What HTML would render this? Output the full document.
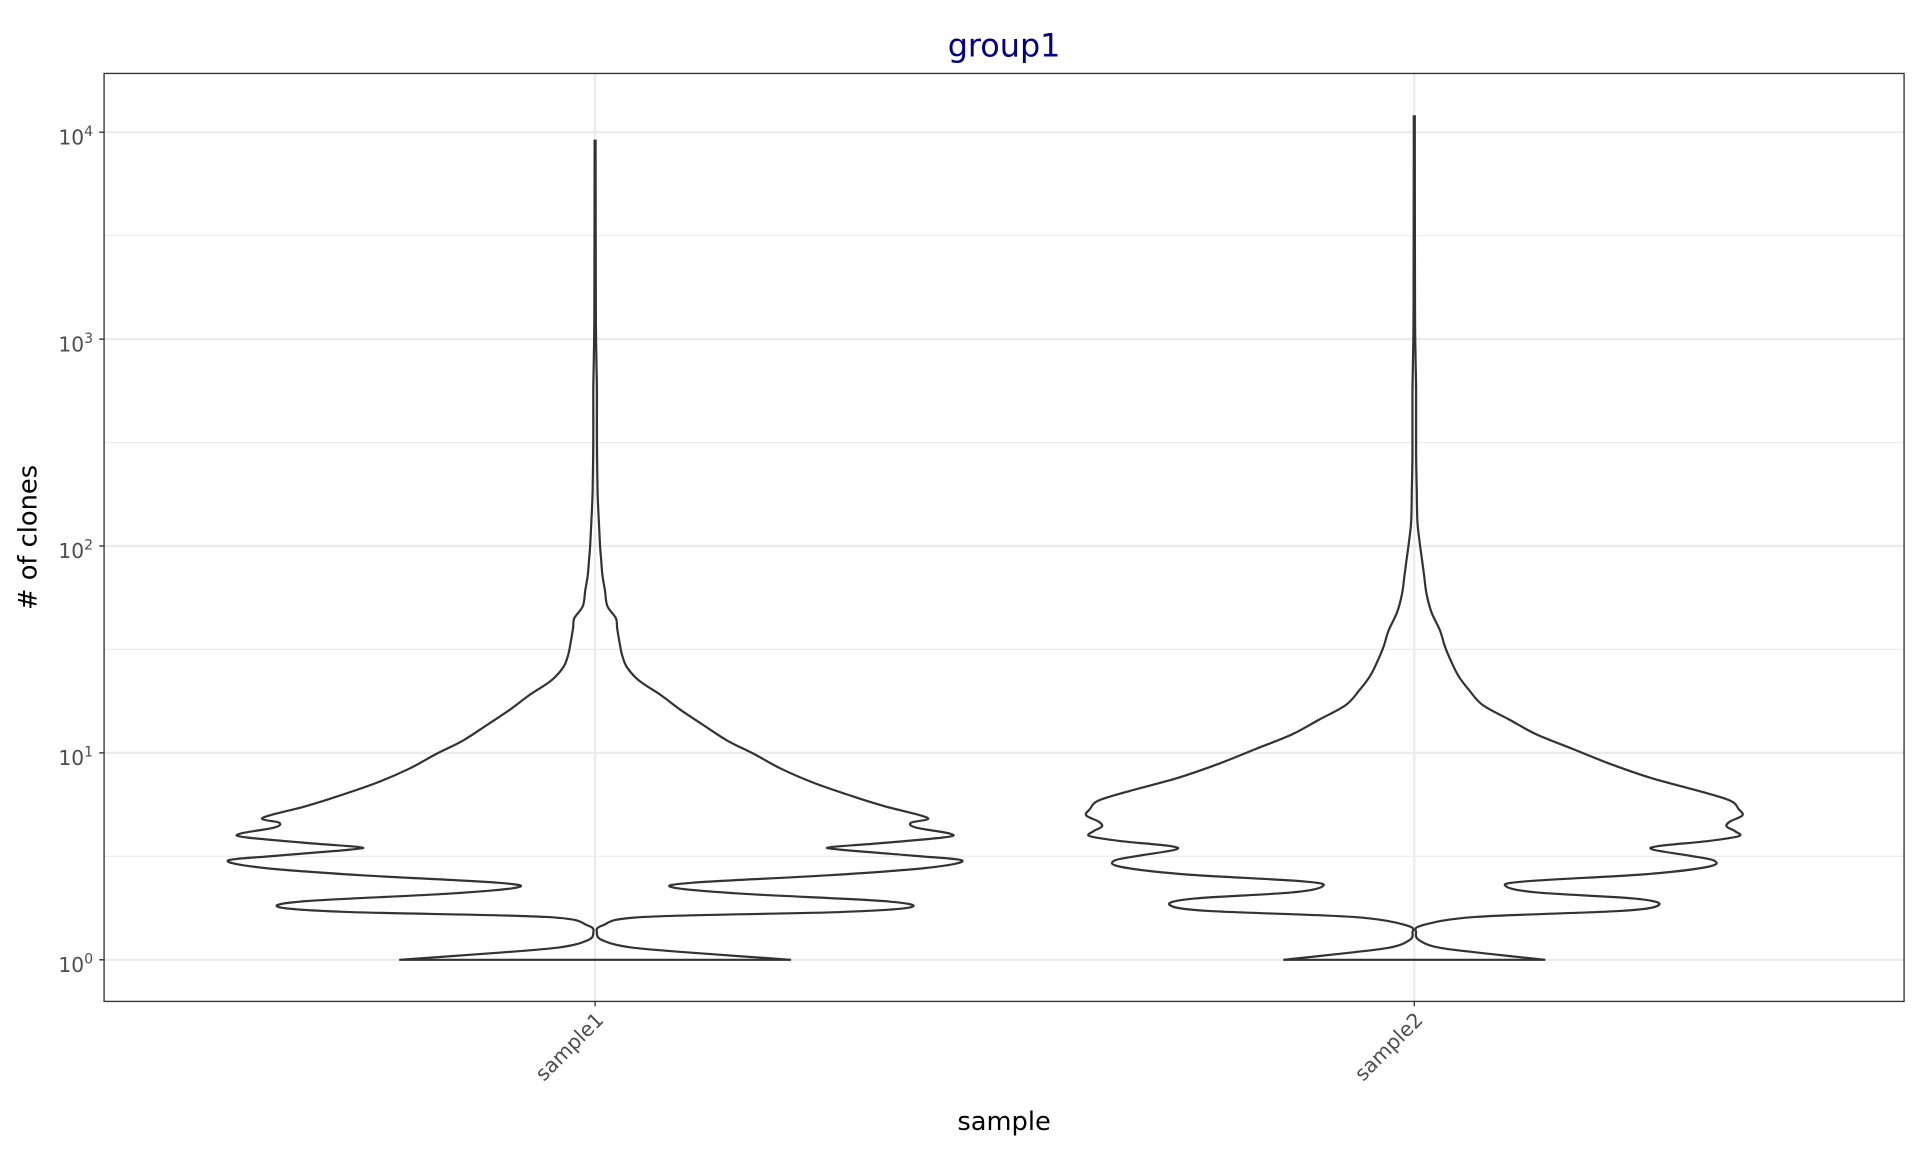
<!DOCTYPE html>
<html><head><style>html,body{margin:0;padding:0;background:#fff}svg{display:block}</style></head>
<body>
<svg id="s" width="1920" height="1152" viewBox="0 0 1568 941" preserveAspectRatio="none" xmlns="http://www.w3.org/2000/svg" font-family="'DejaVu Sans','Liberation Sans',sans-serif">
<rect x="0" y="0" width="1568" height="941" fill="#fff"/>
<g stroke="#ebebeb" stroke-width="0.9">
<line x1="85" x2="1555" y1="192.5" y2="192.5"/><line x1="85" x2="1555" y1="361.5" y2="361.5"/><line x1="85" x2="1555" y1="530.5" y2="530.5"/><line x1="85" x2="1555" y1="699.5" y2="699.5"/>
</g>
<g stroke="#ebebeb" stroke-width="1.8">
<line x1="85" x2="1555" y1="108" y2="108"/><line x1="85" x2="1555" y1="277" y2="277"/><line x1="85" x2="1555" y1="446" y2="446"/><line x1="85" x2="1555" y1="615" y2="615"/><line x1="85" x2="1555" y1="784" y2="784"/>
<line x1="486" x2="486" y1="60" y2="818"/><line x1="1155" x2="1155" y1="60" y2="818"/>
</g>
<path id="v1" fill="none" stroke="#333" stroke-width="1.8"/>
<path id="v2" fill="none" stroke="#333" stroke-width="1.8"/>
<rect x="85" y="60" width="1470" height="758" fill="none" stroke="#333" stroke-width="1.1"/>
<g stroke="#333" stroke-width="1.1">
<line x1="81" x2="85" y1="108" y2="108"/><line x1="81" x2="85" y1="277" y2="277"/><line x1="81" x2="85" y1="446" y2="446"/><line x1="81" x2="85" y1="615" y2="615"/><line x1="81" x2="85" y1="784" y2="784"/>
<line x1="486" x2="486" y1="818" y2="822"/><line x1="1155" x2="1155" y1="818" y2="822"/>
</g>
<g fill="#4d4d4d" font-size="16.5" text-anchor="end">
<text x="76" y="118">10<tspan font-size="11.5" dy="-7">4</tspan></text>
<text x="76" y="287">10<tspan font-size="11.5" dy="-7">3</tspan></text>
<text x="76" y="456">10<tspan font-size="11.5" dy="-7">2</tspan></text>
<text x="76" y="625">10<tspan font-size="11.5" dy="-7">1</tspan></text>
<text x="76" y="794">10<tspan font-size="11.5" dy="-7">0</tspan></text>
<text transform="translate(494,834) rotate(-45)" font-size="16.5">sample1</text>
<text transform="translate(1163,834) rotate(-45)" font-size="16.5">sample2</text>
</g>
<text x="820" y="923" font-size="21" text-anchor="middle" fill="#000">sample</text>
<text transform="translate(30,439) rotate(-90)" font-size="21" text-anchor="middle" fill="#000"># of clones</text>
<text x="820" y="46" font-size="26" text-anchor="middle" fill="#000080">group1</text>
</svg>
<script>
function build(cx,pts){
  function cr(P){var d="M"+P[0][0]+","+P[0][1];for(var i=0;i<P.length-1;i++){var p0=P[i-1]||P[i],p1=P[i],p2=P[i+1],p3=P[i+2]||p2;
  d+=" C"+(p1[0]+(p2[0]-p0[0])/6).toFixed(2)+","+(p1[1]+(p2[1]-p0[1])/6).toFixed(2)+" "+(p2[0]-(p3[0]-p1[0])/6).toFixed(2)+","+(p2[1]-(p3[1]-p1[1])/6).toFixed(2)+" "+p2[0]+","+p2[1];}return d;}
  var R=pts.map(function(p){return [cx+p[1],p[0]]});
  var L=pts.slice().reverse().map(function(p){return [cx-p[1],p[0]]});
  var d=cr(R); var dl=cr(L); d+=" L"+dl.slice(1)+" Z";
  return d;
}
var s1=[[784,160],[779,90],[774,30],[768,6],[762,1.5],[756,6],[749,40],[745,200],[741,258],[736,235],[730,120],[725,64],[721,80],[715,190],[709,270],[703,300],[699,260],[694,200],[692,192],[689,230],[684,285],[681,290],[676,262],[672,258],[669,272],[665,262],[659,238],[652,215],[640,180],[628,152],[616,130],[605,108],[592,88],[580,70],[568,54],[556,36],[545,26],[535,22],[525,20],[513,18],[505,17],[495,10],[482,8],[470,6],[458,5],[445,4],[425,3],[400,2],[360,1.5],[320,1.5],[290,1],[250,0.6],[115,0.4]];
var s2=[[784,107],[779,60],[774,20],[768,4],[762,1.5],[756,6],[749,50],[744,170],[739,200],[734,180],[729,100],[724,75],[720,90],[714,190],[708,240],[703,245],[699,225],[694,195],[691,200],[687,240],[683,265],[679,262],[675,255],[671,258],[666,268],[661,265],[654,258],[646,232],[636,195],[624,160],[612,130],[600,100],[588,78],[576,56],[564,45],[552,36],[540,30],[528,25],[515,21],[500,14],[485,10],[470,8],[455,6],[440,4],[425,2.5],[400,2],[370,1.5],[320,1.5],[290,1],[250,0.6],[95,0.4]];
document.getElementById('v1').setAttribute('d',build(486,s1));
document.getElementById('v2').setAttribute('d',build(1155,s2));
</script>
</body></html>
